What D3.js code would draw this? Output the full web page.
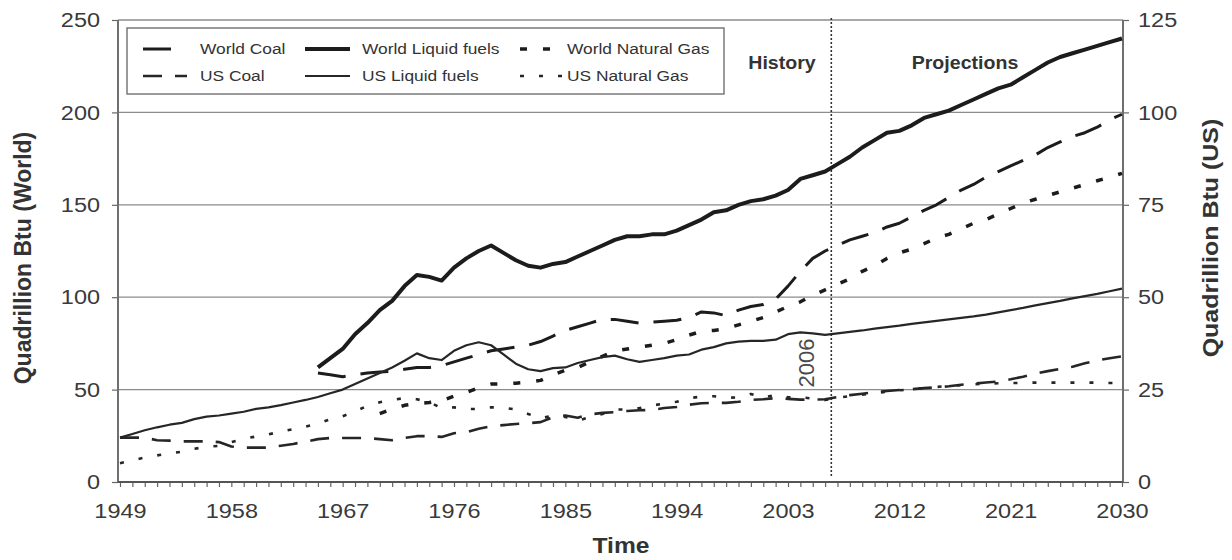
<!DOCTYPE html>
<html>
<head>
<meta charset="utf-8">
<script src="https://cdn.jsdelivr.net/npm/d3@7"></script>
<style>
  html, body { margin: 0; padding: 0; background: #fff; }
  svg { display: block; }
</style>
</head>
<body>
<svg id="chart" width="1232" height="560"></svg>
<script>
// ---- Data (quadrillion Btu) ----
const years = d3.range(1949, 2031);
const xLabels = [1949, 1958, 1967, 1976, 1985, 1994, 2003, 2012, 2021, 2030];
const worldTicks = [0, 50, 100, 150, 200, 250];
const usTicks = [0, 25, 50, 75, 100, 125];
const lastHistoryYear = 2006;

// World series (left axis)
const worldStart = 1965;
const worldLiquid = [
  62, 67, 72, 80, 86, 93, 98, 106, 112, 111,
  109, 116, 121, 125, 128, 124, 120, 117, 116, 118,
  119, 122, 125, 128, 131, 133, 133, 134, 134, 136,
  139, 142, 146, 147, 150, 152, 153, 155, 158, 164,
  166, 168, 172, 176, 181, 185, 189, 190, 193, 197,
  199, 201, 204, 207, 210, 213, 215, 219, 223, 227,
  230, 232, 234, 236, 238, 240
];
const worldCoal = [
  59, 58, 57, 58, 59, 59.5, 60, 61, 62, 62,
  63, 65, 67, 69, 71, 72, 73, 74, 76, 79,
  82, 84, 86, 88, 88, 87, 86, 86.5, 87, 87.5,
  89, 92, 91.5, 90, 93, 95, 96, 99, 106, 114,
  121, 125, 128, 131, 133, 135, 138, 140, 143.5, 147,
  150, 154, 158, 161, 165, 168, 171, 174, 177, 181,
  184, 187, 189, 192, 196, 199
];
const worldGasStart = 1970;
const worldGas = [
  37, 39.5, 41.5, 42.5, 43, 44, 46.5, 48.5, 51, 53,
  53, 53.5, 54, 55, 58, 60.5, 62, 65, 68, 71,
  72, 73, 74, 75, 77, 79.5, 81.5, 82, 83, 85,
  87, 89, 92, 95, 97.5, 101, 104, 107, 110, 114,
  117, 121, 124, 126, 129, 132, 134, 137, 140, 142,
  145, 148, 151, 153, 155, 157, 159, 161, 163, 165,
  167
];

// US series (right axis)
const usStart = 1949;
const usLiquid = [
  12.0, 13.0, 14.0, 14.8, 15.5, 16.0, 17.0, 17.7, 18.0, 18.5,
  19.0, 19.8, 20.2, 20.8, 21.5, 22.2, 23.0, 24.0, 25.0, 26.5,
  28.0, 29.5, 31.0, 32.8, 34.8, 33.5, 33.0, 35.5, 37.0, 37.8,
  37.0, 34.5, 32.0, 30.5, 30.0, 30.8, 31.0, 32.2, 33.0, 33.8,
  34.2, 33.2, 32.5, 33.0, 33.5, 34.2, 34.5, 35.8, 36.5, 37.5,
  38.0, 38.2, 38.2, 38.5, 40.0, 40.5, 40.2, 39.8, 40.2, 40.6,
  41.0, 41.5, 41.9, 42.3, 42.8, 43.2, 43.6, 44.0, 44.4, 44.8,
  45.3, 45.9, 46.5, 47.1, 47.8, 48.4, 49.0, 49.7, 50.3, 50.9,
  51.6, 52.3
];
const usCoal = [
  12.0, 12.0, 12.0, 11.3, 11.2, 11.0, 11.0, 11.0, 10.8, 9.6,
  9.3, 9.3, 9.3, 9.8, 10.3, 10.9, 11.6, 11.9, 11.9, 11.9,
  11.9, 11.6, 11.3, 11.9, 12.4, 12.4, 12.2, 13.2, 13.5, 14.4,
  15.1, 15.4, 15.7, 15.9, 16.2, 17.5, 18.0, 17.4, 18.3, 18.7,
  18.9, 19.2, 19.4, 19.5, 20.0, 20.3, 20.9, 21.3, 21.4, 21.4,
  21.7, 22.2, 22.4, 22.7, 22.5, 22.3, 22.3, 22.4, 23.0, 23.5,
  23.9, 24.3, 24.6, 24.9, 25.1, 25.4, 25.6, 25.9, 26.3, 26.6,
  26.9, 27.2, 27.8, 28.5, 29.3, 30.0, 30.6, 31.2, 32.1, 32.9,
  33.5, 34.0
];
const usGas = [
  5.1, 5.9, 6.6, 7.2, 7.7, 8.2, 9.0, 9.5, 9.8, 10.8,
  11.7, 12.3, 12.9, 13.6, 14.3, 15.0, 15.8, 17.0, 17.8, 19.1,
  20.6, 21.6, 22.2, 22.7, 22.4, 21.6, 20.0, 20.2, 19.7, 19.8,
  20.2, 20.1, 19.6, 18.4, 17.2, 18.0, 17.6, 16.6, 17.6, 18.4,
  19.6, 19.6, 20.0, 20.7, 21.2, 21.7, 22.7, 23.1, 23.2, 22.8,
  22.9, 23.8, 22.8, 23.6, 22.9, 22.9, 22.6, 22.2, 22.8, 23.2,
  23.6, 24.0, 24.4, 24.8, 25.1, 25.4, 25.7, 26.0, 26.2, 26.4,
  26.6, 26.7, 26.8, 26.8, 26.9, 26.9, 26.9, 26.9, 26.9, 26.9,
  26.8, 26.8
];

// ---- Layout ----
const FONT = '"Liberation Sans", Arial, Helvetica, sans-serif';
const SX = 1.12;                       // horizontal text stretch
const frame = { left: 118, right: 1123, top: 20, bottom: 482 };

const svg = d3.select("#chart").style("font-family", FONT);

const x = d3.scaleLinear().domain([1949, 2030]).range([120, 1122]);
const yW = d3.scaleLinear().domain([0, 250]).range([frame.bottom, frame.top]);
const yUS = d3.scaleLinear().domain([0, 125]).range([frame.bottom, frame.top]);

// horizontal gridlines
svg.append("g")
  .selectAll("line")
  .data(worldTicks.filter(d => d > 0))
  .join("line")
  .attr("x1", frame.left).attr("x2", frame.right)
  .attr("y1", d => yW(d)).attr("y2", d => yW(d))
  .attr("stroke", "#8c8c8c").attr("stroke-width", 1.3);

// left axis
const gL = svg.append("g").attr("transform", `translate(${frame.left},0)`)
  .call(d3.axisLeft(yW).tickValues(worldTicks).tickSize(6).tickSizeOuter(0));
// right axis
const gR = svg.append("g").attr("transform", `translate(${frame.right},0)`)
  .call(d3.axisRight(yUS).tickValues(usTicks).tickSize(6).tickSizeOuter(0));
// bottom axis: a tick for every year, labels every ninth year
const gB = svg.append("g").attr("transform", `translate(0,${frame.bottom})`)
  .call(d3.axisBottom(x).tickValues(years).tickSize(5).tickSizeOuter(0)
    .tickFormat(d => xLabels.includes(d) ? String(d) : ""));

[gL, gR, gB].forEach(g => {
  g.select(".domain").remove();
  g.selectAll(".tick line").attr("stroke", "#666").attr("stroke-width", 1.2);
  g.selectAll(".tick text")
    .attr("fill", "#3a3a3a")
    .style("font-size", "21px")
    .style("font-family", FONT)
    .attr("transform", `scale(${SX},1)`);
});
gL.selectAll(".tick text").attr("x", -16);
gR.selectAll(".tick text").attr("x", 13.4);
gB.selectAll(".tick text").attr("y", 21).attr("dy", "0.71em");

// frame lines
const frameG = svg.append("g").attr("stroke", "#6f6f6f").attr("stroke-width", 2);
frameG.append("line").attr("x1", frame.left).attr("x2", frame.left)
  .attr("y1", frame.top).attr("y2", frame.bottom);
frameG.append("line").attr("x1", frame.right).attr("x2", frame.right)
  .attr("y1", frame.top).attr("y2", frame.bottom);
frameG.append("line").attr("x1", frame.left).attr("x2", frame.right)
  .attr("y1", frame.bottom).attr("y2", frame.bottom).attr("stroke", "#555");

// history / projection divider
const xDiv = x(lastHistoryYear + 0.5);
svg.append("line")
  .attr("x1", xDiv).attr("x2", xDiv)
  .attr("y1", frame.top - 2).attr("y2", frame.bottom - 5)
  .attr("stroke", "#333").attr("stroke-width", 1.6)
  .attr("stroke-dasharray", "2,2");

// ---- Series ----
const series = [
  { name: "World Coal", start: worldStart, values: worldCoal, y: yW,
    width: 3, dash: "28,15", color: "#1c1c1c", sample: 30 },
  { name: "World Liquid fuels", start: worldStart, values: worldLiquid, y: yW,
    width: 4, dash: null, color: "#1c1c1c", sample: 45 },
  { name: "World Natural Gas", start: worldGasStart, values: worldGas, y: yW,
    width: 3.5, dash: "7,16", color: "#1c1c1c", sample: 32 },
  { name: "US Coal", start: usStart, values: usCoal, y: yUS,
    width: 2.6, dash: "19,13", color: "#262626", sample: 44 },
  { name: "US Liquid fuels", start: usStart, values: usLiquid, y: yUS,
    width: 2.2, dash: null, color: "#262626", sample: 45 },
  { name: "US Natural Gas", start: usStart, values: usGas, y: yUS,
    width: 2.6, dash: "4,15", color: "#262626", sample: 42 }
];

const linesG = svg.append("g").attr("fill", "none")
  .attr("stroke-linejoin", "round");
series.forEach(s => {
  const pts = s.values.map((v, i) => ({ year: s.start + i, v }));
  const line = d3.line().x(d => x(d.year)).y(d => s.y(d.v));
  linesG.append("path")
    .datum(pts)
    .attr("d", line)
    .attr("stroke", s.color)
    .attr("stroke-width", s.width)
    .attr("stroke-dasharray", s.dash);
});

// ---- Legend ----
const legend = svg.append("g");
legend.append("rect")
  .attr("x", 127).attr("y", 28).attr("width", 597).attr("height", 66)
  .attr("fill", "#fff").attr("stroke", "#7a7a7a").attr("stroke-width", 1.5);

const colSample = [143, 305, 520];
const colText = [200, 362, 567];
const rowY = [49, 76];
series.forEach((s, i) => {
  const col = i % 3, row = Math.floor(i / 3);
  legend.append("line")
    .attr("x1", colSample[col]).attr("x2", colSample[col] + s.sample)
    .attr("y1", rowY[row]).attr("y2", rowY[row])
    .attr("stroke", s.color).attr("stroke-width", s.width)
    .attr("stroke-dasharray", s.dash);
  legend.append("text")
    .attr("transform", `translate(${colText[col]},${rowY[row]}) scale(${SX},1)`)
    .attr("dy", "0.35em")
    .attr("fill", "#333")
    .style("font-size", "15.5px")
    .text(s.name);
});

// ---- Titles and annotations ----
function label(txt, tx, ty, opts) {
  const rot = opts.rotate ? " rotate(-90)" : "";
  return svg.append("text")
    .attr("transform", `translate(${tx},${ty}) scale(${opts.sx || SX},1)${rot}`)
    .attr("text-anchor", "middle")
    .attr("dy", opts.dy || "0.35em")
    .attr("fill", opts.fill || "#333")
    .style("font-size", opts.size + "px")
    .style("font-weight", opts.bold ? "bold" : "normal")
    .text(txt);
}

label("Quadrillion Btu (World)", 23, 258, { rotate: true, bold: true, size: 23, sx: 1.0 });
label("Quadrillion Btu (US)", 1210, 238, { rotate: true, bold: true, size: 25, sx: 0.9 });
label("Time", 621, 545, { bold: true, size: 22 });
label("History", 782, 63, { bold: true, size: 17.5 });
label("Projections", 965, 63, { bold: true, size: 17.5 });
label(String(lastHistoryYear), 806, 363, { rotate: true, size: 22, fill: "#4a4a4a", sx: 1.0 });
</script>
</body>
</html>
